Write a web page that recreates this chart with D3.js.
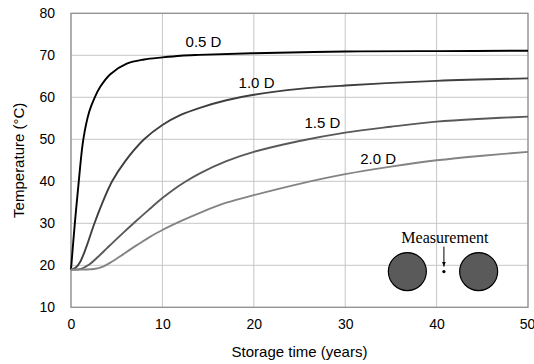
<!DOCTYPE html>
<html>
<head>
<meta charset="utf-8">
<script src="https://cdn.jsdelivr.net/npm/d3@7"></script>
<style>
  body { margin: 0; background: #fff; }
  svg { display: block; }
</style>
</head>
<body>
<svg id="chart" width="534" height="364"></svg>
<script>
// storage time (years) vs temperature (°C), one curve per spacing
const seriesNames = ["0.5 D", "1.0 D", "1.5 D", "2.0 D"];
const seriesColors = ["#000000", "#3f3f3f", "#595959", "#848484"];

const curve05 = [[0, 19], [0.4, 29.5], [0.85, 40], [1.35, 50], [2, 56.6], [2.6, 60], [3.2, 62.5], [4.3, 65.5], [6.1, 68], [8, 69], [10, 69.5], [12, 69.9], [14, 70.1], [20, 70.5], [30, 70.9], [40, 71], [50, 71.1]];
const curve10 = [[0, 19], [0.5, 19.4], [1, 20.8], [1.65, 24.2], [2.5, 29.6], [3.4, 34.7], [4.5, 40], [5.9, 44.7], [8, 50], [10, 53.4], [12, 55.8], [14.1, 57.5], [17, 59.3], [20, 60.6], [25, 62], [30, 62.8], [40, 63.9], [50, 64.5]];
const curve15 = [[0, 19], [1, 19.1], [2, 20.2], [3, 22.1], [4, 24.2], [5.5, 27.3], [7, 30.3], [8.5, 33.2], [10, 36], [11.2, 38], [12.5, 39.9], [14.1, 41.9], [17, 44.8], [20, 47], [25, 49.6], [30, 51.6], [35, 53], [40, 54.2], [45, 54.9], [50, 55.4]];
const curve20 = [[0, 19], [1.5, 19], [2.5, 19.12], [3.5, 19.7], [4.5, 20.9], [5.5, 22.3], [6.5, 23.8], [7.5, 25.2], [8.5, 26.6], [10, 28.4], [12, 30.5], [14.1, 32.5], [17, 34.9], [20, 36.7], [25, 39.4], [30, 41.7], [35, 43.5], [40, 45], [45, 46.1], [50, 47]];
const allCurves = [curve05, curve10, curve15, curve20];

// label anchor (years, °C) for each curve name
const labelPositions = [[14.5, 72], [20.3, 62.2], [27.5, 52.7], [33.6, 44.1]];

const xTicks = [0, 10, 20, 30, 40, 50];
const yTicks = [10, 20, 30, 40, 50, 60, 70, 80];

// inset sketch: two bars and the measurement point (years, °C)
const insetBars = [[36.8, 18.5], [44.6, 18.5]];
const insetPoint = [40.8, 18.5];

const svg = d3.select("#chart");
const margin = { left: 71, right: 6, top: 13.3, bottom: 56.7 };
const width = 534, height = 364;

const x = d3.scaleLinear().domain([0, 50]).range([margin.left, width - margin.right]);
const y = d3.scaleLinear().domain([10, 80]).range([height - margin.bottom, margin.top]);

const fontSans = "Arial, 'Liberation Sans', sans-serif";

// gridlines
svg.append("g")
  .selectAll("line")
  .data(yTicks)
  .join("line")
  .attr("x1", x(0)).attr("x2", x(50))
  .attr("y1", (d) => y(d)).attr("y2", (d) => y(d))
  .attr("stroke", "#c6c6c6").attr("stroke-width", 1);

svg.append("g")
  .selectAll("line")
  .data(xTicks)
  .join("line")
  .attr("x1", (d) => x(d)).attr("x2", (d) => x(d))
  .attr("y1", y(10)).attr("y2", y(80))
  .attr("stroke", "#c6c6c6").attr("stroke-width", 1);

// frame
svg.append("rect")
  .attr("x", x(0)).attr("y", y(80))
  .attr("width", x(50) - x(0)).attr("height", y(10) - y(80))
  .attr("fill", "none").attr("stroke", "#8c8c8c").attr("stroke-width", 1.2);

// axes (labels only, no tick marks)
const xAxis = svg.append("g")
  .attr("transform", `translate(0,${y(10)})`)
  .call(d3.axisBottom(x).tickValues(xTicks).tickSize(0).tickPadding(12));
const yAxis = svg.append("g")
  .attr("transform", `translate(${x(0)},0)`)
  .call(d3.axisLeft(y).tickValues(yTicks).tickSize(0).tickPadding(16));
[xAxis, yAxis].forEach((g) => {
  g.select(".domain").remove();
  g.selectAll("text").attr("font-family", fontSans).attr("font-size", "14px").attr("fill", "#000");
});
// keep the last x label inside the window
xAxis.selectAll(".tick text").filter((d) => d === 50).attr("dx", "-1px");

// curves
const line = d3.line()
  .x((d) => x(d[0]))
  .y((d) => y(d[1]))
  .curve(d3.curveCatmullRom.alpha(0.5));

svg.append("g")
  .selectAll("path")
  .data(allCurves)
  .join("path")
  .attr("d", line)
  .attr("fill", "none")
  .attr("stroke", (d, i) => seriesColors[i])
  .attr("stroke-width", 1.9)
  .attr("stroke-linejoin", "round");

svg.append("g")
  .selectAll("text")
  .data(seriesNames)
  .join("text")
  .attr("x", (d, i) => x(labelPositions[i][0]))
  .attr("y", (d, i) => y(labelPositions[i][1]))
  .attr("text-anchor", "middle")
  .attr("font-family", fontSans)
  .attr("font-size", "15px")
  .attr("fill", "#000")
  .text((d) => d);

// axis titles
svg.append("text")
  .attr("x", (x(0) + x(50)) / 2)
  .attr("y", 357)
  .attr("text-anchor", "middle")
  .attr("font-family", fontSans)
  .attr("font-size", "15px")
  .text("Storage time (years)");

svg.append("text")
  .attr("transform", `translate(24,${(y(10) + y(80)) / 2}) rotate(-90)`)
  .attr("text-anchor", "middle")
  .attr("font-family", fontSans)
  .attr("font-size", "15px")
  .text("Temperature (°C)");

// inset sketch
const inset = svg.append("g");
inset.selectAll("circle.bar")
  .data(insetBars)
  .join("circle")
  .attr("class", "bar")
  .attr("cx", (d) => x(d[0]))
  .attr("cy", (d) => y(d[1]))
  .attr("r", 19)
  .attr("fill", "#5a5a5a")
  .attr("stroke", "#000")
  .attr("stroke-width", 1.2);

inset.append("circle")
  .attr("cx", x(insetPoint[0]))
  .attr("cy", y(insetPoint[1]))
  .attr("r", 1.6)
  .attr("fill", "#000");

svg.append("defs").append("marker")
  .attr("id", "arrowhead")
  .attr("viewBox", "0 -5 10 10")
  .attr("refX", 10)
  .attr("refY", 0)
  .attr("orient", "auto")
  .attr("markerWidth", 5)
  .attr("markerHeight", 5)
  .append("path")
  .attr("d", "M 0,-4 L 10,0 L 0,4 Z")
  .attr("fill", "#000");

inset.append("line")
  .attr("x1", x(insetPoint[0])).attr("x2", x(insetPoint[0]))
  .attr("y1", y(insetPoint[1]) - 25).attr("y2", y(insetPoint[1]) - 5)
  .attr("stroke", "#000").attr("stroke-width", 1)
  .attr("marker-end", "url(#arrowhead)");

inset.append("text")
  .attr("x", x(insetPoint[0]) + 1)
  .attr("y", y(insetPoint[1]) - 29)
  .attr("text-anchor", "middle")
  .attr("font-family", "'Liberation Serif', 'Times New Roman', serif")
  .attr("font-size", "16px")
  .text("Measurement");
</script>
</body>
</html>
